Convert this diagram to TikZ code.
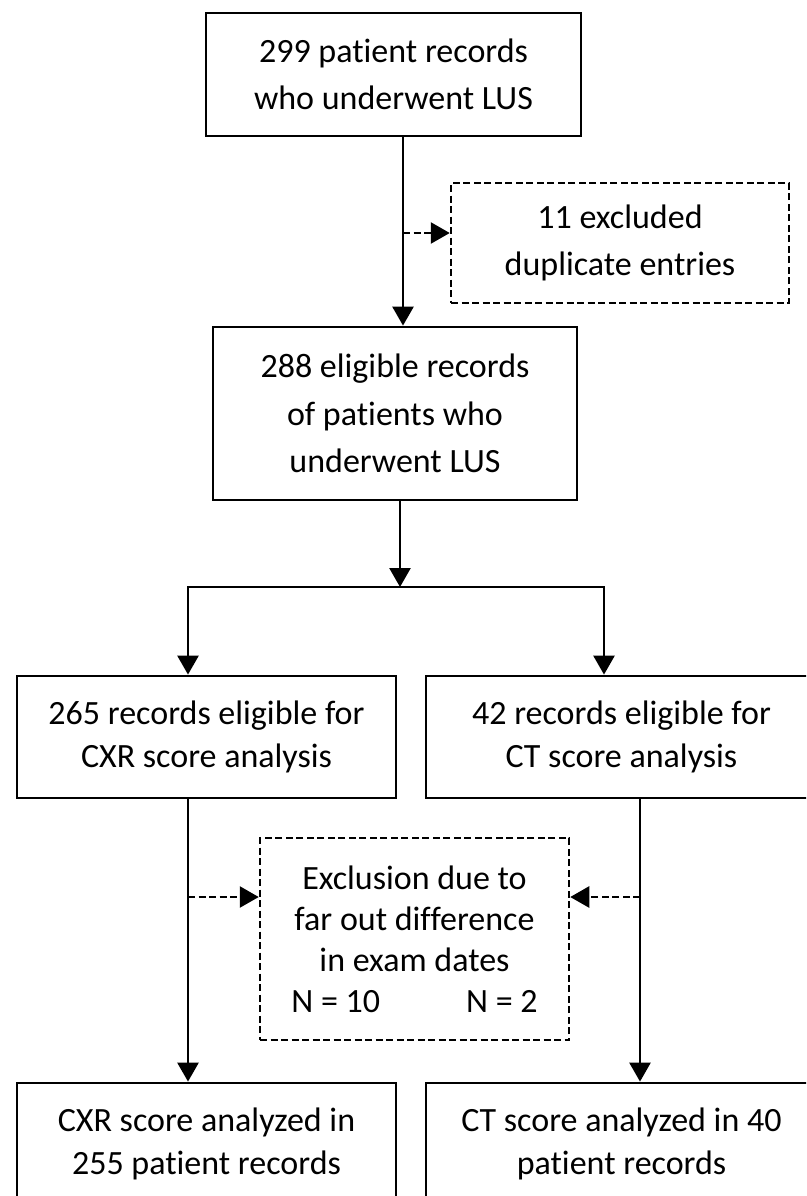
\documentclass[tikz,border=0pt]{standalone}
\usepackage{fontspec}
\setmainfont{Carlito}[Ligatures=NoCommon]
\usetikzlibrary{arrows.meta}
\begin{document}
\begin{tikzpicture}[x=1pt,y=-1pt,
  box/.style={draw, line width=2.8pt, rectangle, inner sep=0pt, align=center},
  exbox/.style={box, dash pattern=on 7pt off 3.5pt, line width=2.5pt},
  bigtxt/.style={font=\fontsize{34}{47.5}\selectfont},
  midtxt/.style={font=\fontsize{34}{43}\selectfont},
  smltxt/.style={font=\fontsize{34}{41}\selectfont},
  ln/.style={line width=2.6pt, line join=miter},
  arr/.style={ln, -{Triangle[width=21pt,length=19pt]}},
  darr/.style={arr, dash pattern=on 7pt off 3.5pt}]
\useasboundingbox (0,0) rectangle (806,1196);
\fill[white] (0,0) rectangle (806,1196);
\clip (0,0) rectangle (806,1196);

\node[box, bigtxt, minimum width=375pt, minimum height=123pt] (b1) at (393.5,74.5)
  {299 patient records\\who underwent LUS};
\node[exbox, bigtxt, minimum width=338pt, minimum height=120pt] (ex1) at (620,243)
  {11 excluded\\duplicate entries};
\node[box, bigtxt, minimum width=364pt, minimum height=173pt] (b2) at (395,413.5)
  {288 eligible records\\of patients who\\underwent LUS};
\node[box, midtxt, minimum width=379pt, minimum height=122pt] (b3) at (206.5,737)
  {265 records eligible for\\CXR score analysis};
\node[box, midtxt, minimum width=391pt, minimum height=122pt] (b4) at (621.5,737)
  {42 records eligible for\\CT score analysis};
\node[exbox, smltxt, minimum width=309pt, minimum height=202pt] (ex2) at (414.5,939)
  {Exclusion due to\\far out difference\\in exam dates\\N = 10\hspace{86pt}N = 2};
\node[box, midtxt, minimum width=379pt, minimum height=122pt] (b5) at (206.5,1144)
  {CXR score analyzed in\\255 patient records};
\node[box, midtxt, minimum width=391pt, minimum height=122pt] (b6) at (621.5,1144)
  {CT score analyzed in 40\\patient records};

\coordinate (c1) at (403,233);
\coordinate (sp) at (400,587);
\coordinate (spl) at (188,587);
\coordinate (spr) at (604,587);
\coordinate (dl) at (188,897);
\coordinate (dr) at (640,897);

\draw[arr] (c1 |- b1.south) -- (c1 |- b2.north);
\draw[darr] (c1) -- (c1 -| ex1.west);
\draw[arr] (sp |- b2.south) -- (sp);
\draw[arr] (sp) -- (spl) -- (spl |- b3.north);
\draw[arr] (sp) -- (spr) -- (spr |- b4.north);
\draw[arr] (dl |- b3.south) -- (dl |- b5.north);
\draw[arr] (dr |- b4.south) -- (dr |- b6.north);
\draw[darr] (dl) -- (dl -| ex2.west);
\draw[darr] (dr) -- (dr -| ex2.east);
\end{tikzpicture}
\end{document}
